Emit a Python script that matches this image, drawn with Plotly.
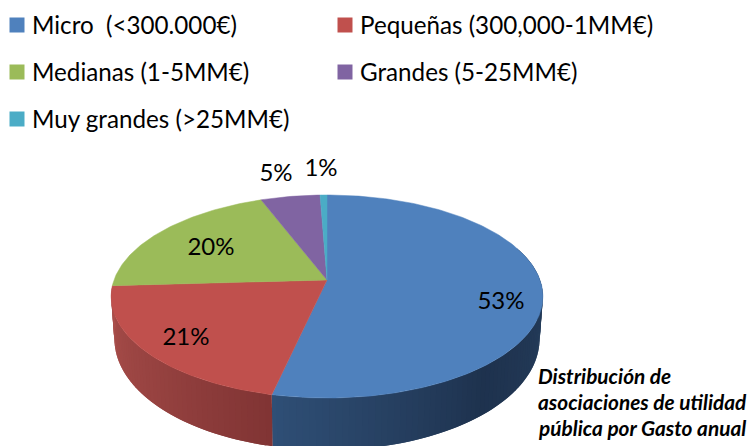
import numpy as np
import plotly.graph_objects as go

categories = ["Micro  (<300.000€)", "Pequeñas (300,000-1MM€)", "Medianas (1-5MM€)",
              "Grandes (5-25MM€)", "Muy grandes (>25MM€)"]
values = [53.5, 20.6, 20.1, 5.2, 0.6]
value_labels = ["53%", "21%", "20%", "5%", "1%"]
colors = ["#4F81BD", "#C0504D", "#9BBB59", "#8064A2", "#4BACC6"]
caption_lines = ["Distribución de", "asociaciones de utilidad", "pública por Gasto anual"]

FONT = "Lato, Carlito, Calibri, sans-serif"
CX, X_R = 327.0, 213.0
C, A, B = 0.1626, -53.3, 280.0


def top_pt(theta):
    u, v = np.sin(theta), np.cos(theta)
    d = 1 + C * v
    return CX + X_R * u / d, (A * v + B) / d


def bottom_pt(theta):
    x, y = top_pt(theta)
    v = np.cos(theta)
    depth = 40 + 12 * np.clip(-v, 0, 1)
    return CX + (x - CX) * 0.985, y + depth


fig = go.Figure()

fractions = np.array(values) / sum(values)
edges = np.concatenate([[0], np.cumsum(fractions)]) * 2 * np.pi
split_deg = np.rad2deg(edges[1])
left_deg = np.rad2deg(edges[2])

# side wall: thin shaded strips below the top face
wall_stops = [
    ([70, 100, 140, split_deg], [(38, 62, 92), (36, 60, 90), (30, 50, 78), (47, 79, 118)]),
    ([split_deg, 225, left_deg], [(128, 52, 52), (150, 66, 64), (172, 80, 76)]),
]
for stops, cols in wall_stops:
    lo, hi = stops[0], stops[-1]
    for a0 in np.arange(lo, hi, 1.5):
        a1 = min(a0 + 3.0, hi)
        t = np.deg2rad(np.linspace(a0, a1, 4))
        xt, yt = top_pt(t)
        xb, yb = bottom_pt(t)
        mid = a0 + 0.75
        rgb = [np.interp(mid, stops, [c[i] for c in cols]) for i in range(3)]
        col = f"rgb({rgb[0]:.0f},{rgb[1]:.0f},{rgb[2]:.0f})"
        fig.add_trace(go.Scatter(
            x=np.concatenate([xt, xb[::-1]]), y=np.concatenate([yt, yb[::-1]]),
            mode="lines", fill="toself", fillcolor=col, line=dict(color=col, width=0),
            hoverinfo="skip", showlegend=False))

# top face
for i, col in enumerate(colors):
    t = np.linspace(edges[i], edges[i + 1], max(4, int(values[i] * 4)))
    xa, ya = top_pt(t)
    fig.add_trace(go.Scatter(
        x=np.concatenate([[CX], xa, [CX]]), y=np.concatenate([[B], ya, [B]]),
        mode="lines", fill="toself", fillcolor=col, line=dict(color=col, width=0.5),
        name=categories[i], showlegend=False, hoverinfo="name"))

# value labels
label_x = [501, 186, 211, 276, 321]
label_y = [303, 339, 249, 175, 170]
fig.add_trace(go.Scatter(
    x=label_x, y=label_y, text=value_labels, mode="text", textposition="middle center",
    textfont=dict(family=FONT, size=24, color="#000000"), showlegend=False, hoverinfo="skip"))

# legend
leg_x = [17, 345, 17, 345, 17]
leg_y = [25, 25, 72, 72, 119]
for i, name in enumerate(categories):
    fig.add_trace(go.Scatter(
        x=[leg_x[i]], y=[leg_y[i]], mode="markers", showlegend=False, name=name,
        marker=dict(symbol="square", size=15, color=colors[i]), hoverinfo="name"))
    fig.add_annotation(x=leg_x[i] + 13, y=leg_y[i] - 1, text=name.replace("  ", "&nbsp; "),
                       xanchor="left", yanchor="middle", showarrow=False,
                       font=dict(family=FONT, size=24.2, color="#000000"))

# caption
for line, y in zip(caption_lines, [375, 401, 427]):
    fig.add_annotation(x=536, y=y, text=f"<b><i>{line}</i></b>", xanchor="left", yanchor="middle",
                       showarrow=False, font=dict(family=FONT, size=20.8, color="#000000"))

fig.update_xaxes(range=[0, 751], visible=False, fixedrange=True)
fig.update_yaxes(range=[446, 0], visible=False, fixedrange=True)
fig.update_layout(width=751, height=446, margin=dict(l=0, r=0, t=0, b=0),
                  paper_bgcolor="white", plot_bgcolor="white", showlegend=False)
fig.write_html("out.html", config=dict(displayModeBar=False),
               post_script="document.body.style.margin='0';document.body.style.overflow='hidden';")
